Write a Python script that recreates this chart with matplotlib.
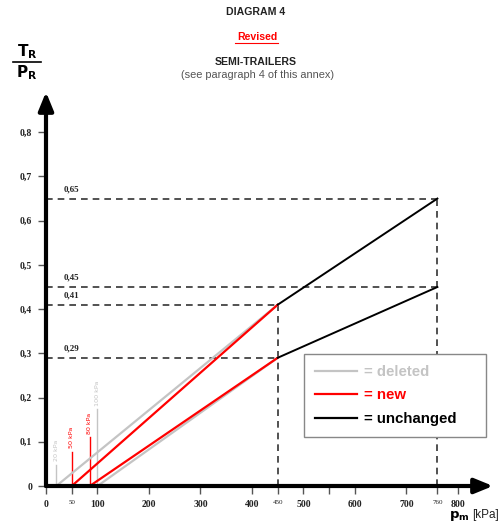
import matplotlib
matplotlib.use("Agg")
import matplotlib.pyplot as plt
from matplotlib.lines import Line2D

# ---- data ----
deleted_lines = [((20, 0.0), (450, 0.41)), ((100, 0.0), (450, 0.29))]
new_lines = [((50, 0.0), (450, 0.41)), ((85, 0.0), (450, 0.29))]
unchanged_lines = [((450, 0.41), (760, 0.65)), ((450, 0.29), (760, 0.45))]

ref_levels = [0.65, 0.45, 0.41, 0.29]
ref_level_labels = ["0,65", "0,45", "0,41", "0,29"]
ref_level_xend = [760, 760, 450, 450]
ref_verticals = [450, 760]
ref_vertical_tops = [0.41, 0.65]

marker_x = [20, 50, 85, 100]
marker_top = [0.048, 0.077, 0.11, 0.174]
marker_labels = ["20 kPa", "50 kPa", "80 kPa", "100 kPa"]
marker_colors = ["#c4c4c4", "#ff0000", "#ff0000", "#c4c4c4"]

yticks = [0, 0.1, 0.2, 0.3, 0.4, 0.5, 0.6, 0.7, 0.8]
ytick_labels = ["0", "0,1", "0,2", "0,3", "0,4", "0,5", "0,6", "0,7", "0,8"]
xticks = [0, 50, 100, 200, 300, 400, 450, 500, 550, 600, 700, 760, 800]
xtick_labels = ["0", "50", "100", "200", "300", "400", "450", "500", "", "600", "700", "760", "800"]
small_xticks = [50, 450, 760]

legend_labels = ["= deleted", "= new", "= unchanged"]
GREY, RED, BLACK = "#c4c4c4", "#ff0000", "#000000"

W, H = 501, 524
fig = plt.figure(figsize=(W / 100, H / 100), dpi=100)
x0, x1, y0, y1 = 46, 493, 486, 92
ax = fig.add_axes([x0 / W, 1 - y0 / H, (x1 - x0) / W, (y0 - y1) / H])
ax.set_xlim(0, 868)
ax.set_ylim(0, 0.891)
for s in ax.spines.values():
    s.set_visible(False)

# reference dashed lines
for lvl, lab, xe in zip(ref_levels, ref_level_labels, ref_level_xend):
    ax.plot([0, xe], [lvl, lvl], color="#333333", lw=1.2, dashes=(4, 3))
    ax.text(50, lvl + 0.012, lab, fontsize=6.5, family="Liberation Serif",
            fontweight="bold", ha="center", va="bottom", color="#222222")
for xv, top in zip(ref_verticals, ref_vertical_tops):
    ax.plot([xv, xv], [0, top], color="#333333", lw=1.2, dashes=(4, 3))

# marker lines
for xv, top, lab, c in zip(marker_x, marker_top, marker_labels, marker_colors):
    ax.plot([xv, xv], [0, top], color=c, lw=1.0)
    ax.text(xv, top + 0.008, lab, rotation=90, fontsize=4.6, color=c,
            ha="center", va="bottom")

for (a, b) in deleted_lines:
    ax.plot([a[0], b[0]], [a[1], b[1]], color=GREY, lw=1.6)
for (a, b) in new_lines:
    ax.plot([a[0], b[0]], [a[1], b[1]], color=RED, lw=1.6)
for (a, b) in unchanged_lines:
    ax.plot([a[0], b[0]], [a[1], b[1]], color=BLACK, lw=1.4)

# axes arrows
ax.annotate("", xy=(1.0, 0), xytext=(0, 0), xycoords="axes fraction",
            arrowprops=dict(arrowstyle="-|>,head_length=1.1,head_width=0.45",
                            lw=3, color="black", shrinkA=0, shrinkB=0))
ax.annotate("", xy=(0, 1.0), xytext=(0, 0), xycoords="axes fraction",
            arrowprops=dict(arrowstyle="-|>,head_length=1.1,head_width=0.45",
                            lw=3, color="black", shrinkA=0, shrinkB=0))

ax.set_yticks(yticks)
ax.set_yticklabels(ytick_labels, family="Liberation Serif", fontweight="bold",
                   fontsize=7, color="#222222")
ax.set_xticks(xticks)
ax.set_xticklabels(xtick_labels, family="Liberation Serif", fontweight="bold",
                   fontsize=7, color="#222222")
for t, v in zip(ax.get_xticklabels(), xticks):
    if v in small_xticks:
        t.set_fontsize(5)
        t.set_fontweight("normal")
ax.tick_params(axis="both", direction="out", length=6, width=1, color="#555555", pad=4)

# legend
handles = [Line2D([], [], color=GREY, lw=1.6),
           Line2D([], [], color=RED, lw=1.6),
           Line2D([], [], color=BLACK, lw=1.6)]
leg = ax.legend(handles, legend_labels, loc="upper left", mode="expand",
                bbox_to_anchor=(304 / W, 1 - 437 / H, 182 / W, 83 / H),
                bbox_transform=fig.transFigure,
                prop=dict(family="Liberation Sans", weight="bold", size=10.8),
                labelcolor=[GREY, RED, BLACK], handlelength=2.8, handletextpad=0.5,
                labelspacing=0.64, borderpad=0.72, fancybox=False, framealpha=1,
                edgecolor="#888888", borderaxespad=0)
leg.get_frame().set_linewidth(1.0)

# titles
def ft(x, y, s, **kw):
    fig.text(x / W, 1 - y / H, s, ha="center", va="center", **kw)

ft(256, 12, "DIAGRAM 4", fontsize=7.6, fontweight="bold", family="Liberation Sans", color="#222222")
ft(257, 37, "Revised", fontsize=7.6, fontweight="bold", family="Liberation Sans", color=RED)
fig.add_artist(Line2D([235 / W, 278 / W], [1 - 43 / H, 1 - 43 / H], color=RED, lw=0.8))
ft(256, 62, "SEMI-TRAILERS", fontsize=7.6, fontweight="bold", family="Liberation Sans", color="#222222")
ft(258, 75, "(see paragraph 4 of this annex)", fontsize=7.9, family="Liberation Sans", color="#555555")

# y label as fraction
ft(27, 52, r"$\mathbf{T}_{\mathbf{R}}$", fontsize=11)
ft(27, 73, r"$\mathbf{P}_{\mathbf{R}}$", fontsize=11)
fig.add_artist(Line2D([13 / W, 41 / W], [1 - 62 / H, 1 - 62 / H], color="black", lw=1.2))

# x label
fig.text(449 / W, 1 - 516 / H, r"$\mathbf{p}_{\mathbf{m}}$", fontsize=9.5, ha="left", va="center")
fig.text(472 / W, 1 - 515 / H, "[kPa]", fontsize=8.5, family="Liberation Sans", ha="left", va="center",
         color="#222222")

fig.savefig("out.png", dpi=100)
